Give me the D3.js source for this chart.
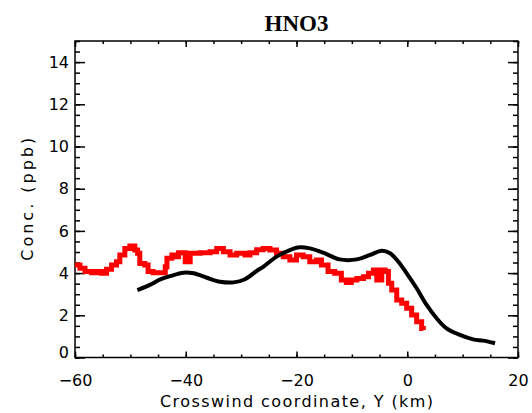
<!DOCTYPE html>
<html><head><meta charset="utf-8">
<script src="https://cdn.jsdelivr.net/npm/d3@7"></script>
<style>
html,body{margin:0;padding:0;background:#fff;}
svg{display:block;}
</style></head>
<body>
<script>
const title = "HNO3";
const xLabel = "Crosswind coordinate, Y (km)";
const yLabel = "Conc. (ppb)";
const xMajorTicks = [-60, -40, -20, 0, 20];
const yMajorTicks = [0, 2, 4, 6, 8, 10, 12, 14];

// Modelled (black) curve: [Y km, conc ppb]
const modelX = [-48.4,-46.5,-44.6,-42.8,-40.4,-38.6,-36.2,-33.8,-31.4,-29.3,-27.2,-26.0,-23.6,-21.2,-19.4,-17.6,-15.2,-12.2,-9.1,-6.7,-4.6,-3.1,-1.6,-0.1,1.7,3.5,5.3,7.1,9.5,11.9,13.7,15.5];
const modelY = [3.23,3.44,3.70,3.86,4.02,3.99,3.78,3.59,3.56,3.71,4.10,4.30,4.78,5.09,5.22,5.17,4.97,4.65,4.65,4.86,5.06,4.94,4.54,3.99,3.28,2.49,1.86,1.38,1.07,0.86,0.80,0.70];

// Observed (red) trace
const obsX = [-60,-59.1,-58.2,-57.0,-56.1,-55.2,-54.3,-53.4,-52.5,-51.9,-51.0,-50.1,-49.2,-48.7,-48.3,-47.4,-46.8,-45.9,-44.65,-43.7,-43.4,-42.5,-41.9,-41.3,-40.1,-39.2,-37.4,-35.6,-34.4,-33.2,-32.0,-30.8,-29.3,-28.4,-27.2,-26.0,-24.8,-23.6,-22.4,-21.2,-20.0,-18.8,-17.6,-16.4,-15.5,-14.3,-13.1,-11.9,-11.0,-10.1,-9.1,-7.9,-7.0,-6.1,-5.5,-4.6,-4.0,-3.4,-2.8,-1.9,-1.0,-0.1,0.8,1.7,2.6,2.9];
const obsY = [4.38,4.23,4.07,4.02,4.07,3.99,4.18,4.38,4.54,4.86,5.17,5.28,5.09,4.94,4.46,4.38,4.07,4.02,4.02,4.30,4.70,4.86,4.78,4.97,4.54,4.94,4.97,5.01,5.17,5.01,4.86,4.94,4.86,4.97,5.11,5.17,5.09,4.94,4.78,4.62,4.86,4.78,4.54,4.62,4.38,4.07,3.99,3.67,3.55,3.67,3.75,3.83,3.99,4.15,3.67,4.15,4.07,3.52,3.20,2.73,2.57,2.33,2.01,1.70,1.38,1.30];

const W = 532, H = 413;
const L = 75, R = 518, T = 41, B = 357.5;

const svg = d3.select("body").append("svg").attr("width", W).attr("height", H);

const x = d3.scaleLinear().domain([-60, 20]).range([L, R]);
const y = d3.scaleLinear().domain([0, 15]).range([B, T]);

const fmt = d3.format("d");
const font = "DejaVu Sans, sans-serif";

function styleAxis(g) {
  g.select(".domain").remove();
  g.selectAll(".tick line").attr("stroke", "#000").attr("stroke-width", 1.5);
  g.selectAll("text").attr("font-family", font).attr("font-size", 16).attr("fill", "#000");
}

const xMinor = d3.range(-60, 20.01, 5);
const yMinor = d3.range(0, 15.01, 0.5);

// bottom
svg.append("g").attr("transform", `translate(0,${B})`)
  .call(d3.axisBottom(x).tickValues(xMinor).tickSize(-3).tickFormat(""))
  .call(styleAxis);
svg.append("g").attr("transform", `translate(0,${B})`)
  .call(d3.axisBottom(x).tickValues(xMajorTicks).tickSize(-6).tickPadding(17).tickFormat(fmt))
  .call(styleAxis);
// top
svg.append("g").attr("transform", `translate(0,${T})`)
  .call(d3.axisTop(x).tickValues(xMinor).tickSize(-3).tickFormat(""))
  .call(styleAxis);
svg.append("g").attr("transform", `translate(0,${T})`)
  .call(d3.axisTop(x).tickValues(xMajorTicks).tickSize(-6).tickFormat(""))
  .call(styleAxis);
// left
svg.append("g").attr("transform", `translate(${L},0)`)
  .call(d3.axisLeft(y).tickValues(yMinor).tickSize(-5).tickFormat(""))
  .call(styleAxis);
const yl = svg.append("g").attr("transform", `translate(${L},0)`)
  .call(d3.axisLeft(y).tickValues(yMajorTicks).tickSize(-10).tickPadding(6).tickFormat(fmt))
  .call(styleAxis);
yl.selectAll(".tick").filter(d => d === 0).select("text").attr("y", -5);
// right
svg.append("g").attr("transform", `translate(${R},0)`)
  .call(d3.axisRight(y).tickValues(yMinor).tickSize(-5).tickFormat(""))
  .call(styleAxis);
svg.append("g").attr("transform", `translate(${R},0)`)
  .call(d3.axisRight(y).tickValues(yMajorTicks).tickSize(-10).tickFormat(""))
  .call(styleAxis);

// frame
svg.append("rect").attr("x", L).attr("y", T).attr("width", R - L).attr("height", B - T)
  .attr("fill", "none").attr("stroke", "#000").attr("stroke-width", 1.5);

// observed red
const obs = obsX.map((v, i) => [v, obsY[i]]);
svg.append("path").datum(obs)
  .attr("d", d3.line().x(d => x(d[0])).y(d => y(d[1])).curve(d3.curveStepAfter))
  .attr("fill", "none").attr("stroke", "#ff0000").attr("stroke-width", 5)
  .attr("stroke-linejoin", "miter");

// model black
const mod = modelX.map((v, i) => [v, modelY[i]]);
svg.append("path").datum(mod)
  .attr("d", d3.line().x(d => x(d[0])).y(d => y(d[1])).curve(d3.curveCatmullRom))
  .attr("fill", "none").attr("stroke", "#000").attr("stroke-width", 4)
  .attr("stroke-linecap", "square");

// title
svg.append("text").attr("x", (L + R) / 2).attr("y", 31)
  .attr("text-anchor", "middle").attr("font-family", "Liberation Serif, serif")
  .attr("font-weight", "bold").attr("font-size", 23).text(title);

// x label
svg.append("text").attr("x", (L + R) / 2).attr("y", 407)
  .attr("text-anchor", "middle").attr("font-family", font).attr("font-size", 16)
  .attr("textLength", 273).attr("lengthAdjust", "spacing").text(xLabel);

// y label
svg.append("text").attr("transform", `translate(33,${(T + B) / 2}) rotate(-90)`)
  .attr("text-anchor", "middle").attr("font-family", font).attr("font-size", 16)
  .attr("textLength", 123).attr("lengthAdjust", "spacing").text(yLabel);
</script>
</body></html>
